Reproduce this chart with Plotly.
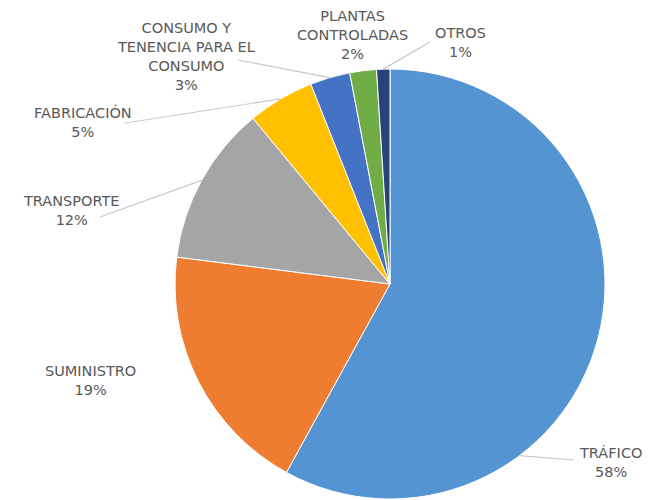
import math
import plotly.graph_objects as go

# ---- data ----
categories = ["TRÁFICO", "SUMINISTRO", "TRANSPORTE", "FABRICACIÓN",
              "CONSUMO Y<br>TENENCIA PARA EL<br>CONSUMO",
              "PLANTAS<br>CONTROLADAS", "OTROS"]
values = [58, 19, 12, 5, 3, 2, 1]
colors = ["#5494D2", "#EE7D31", "#A5A5A5", "#FFC000", "#4472C4", "#70AD47", "#264478"]

# ---- layout helpers ----
W, H = 651, 500
CX, CY, R = 390, 284, 215  # pie centre / radius in pixels

# centre of each label block (pixels)
label_pos = [(610, 462), (90, 380), (71, 211), (83, 122), (186, 57), (353, 35), (460, 43)]
# outer end of leader line (pixels) or None; optional anchor angle override (deg clockwise from top)
leader_end = [(574, 460), None, (100, 217), (125, 123), (238, 60), None, (430, 42)]
leader_angle_override = [143, None, None, None, None, None, None]

total = sum(values)

fig = go.Figure(go.Pie(
    labels=[c.replace("<br>", " ") for c in categories],
    values=values,
    sort=False,
    direction="clockwise",
    rotation=0,
    textinfo="none",
    hoverinfo="label+percent",
    marker=dict(colors=colors, line=dict(color="white", width=1)),
    domain=dict(x=[(CX - R) / W, (CX + R) / W], y=[(H - (CY + R)) / H, (H - (CY - R)) / H]),
    showlegend=False,
))

def px2paper(x, y):
    return x / W, 1 - y / H

annotations = []
shapes = []
cum = 0
for i, (cat, v) in enumerate(zip(categories, values)):
    mid = (cum + v / 2) / total * 360
    cum += v
    text = f"{cat}<br>{round(v / total * 100)}%"
    px, py = px2paper(*label_pos[i])
    annotations.append(dict(
        x=px, y=py, xref="paper", yref="paper", text=text, showarrow=False,
        xanchor="center", yanchor="middle", align="center",
        font=dict(family="DejaVu Sans", size=14.5, color="#595959"),
    ))
    if leader_end[i] is not None:
        ang = leader_angle_override[i] if leader_angle_override[i] is not None else mid
        a = math.radians(ang)
        ex, ey = CX + R * math.sin(a), CY - R * math.cos(a)
        x0, y0 = px2paper(ex, ey)
        x1, y1 = px2paper(*leader_end[i])
        shapes.append(dict(type="line", xref="paper", yref="paper",
                           x0=x0, y0=y0, x1=x1, y1=y1,
                           line=dict(color="#C8C8C8", width=1.2)))

fig.update_layout(
    width=W, height=H,
    margin=dict(l=0, r=0, t=0, b=0),
    paper_bgcolor="white",
    plot_bgcolor="white",
    annotations=annotations,
    shapes=shapes,
)

fig.write_html("out.html", config={"displayModeBar": False},
               post_script="document.body.style.margin='0';")
